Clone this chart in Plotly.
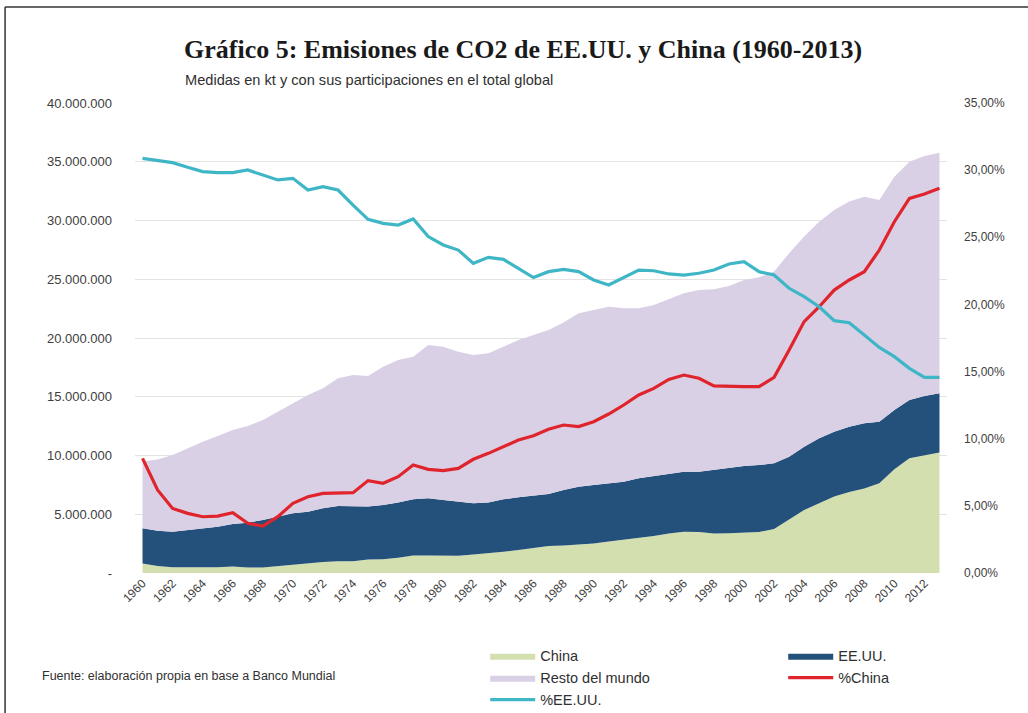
import plotly.graph_objects as go

years = list(range(1960, 2014))

# CO2 emissions (kt)
china = [810000, 600000, 480000, 470000, 470000, 490000, 550000, 460000, 460000, 580000,
         750000, 860000, 930000, 990000, 1010000, 1150000, 1170000, 1300000, 1480000, 1500000,
         1470000, 1470000, 1570000, 1670000, 1810000, 1960000, 2100000, 2300000, 2350000, 2410000,
         2520000, 2680000, 2820000, 2990000, 3140000, 3360000, 3510000, 3490000, 3360000, 3390000,
         3460000, 3490000, 3740000, 4520000, 5360000, 5930000, 6510000, 6900000, 7190000, 7640000,
         8820000, 9770000, 10020000, 10250000]

eeuu = [2990000, 3000000, 3040000, 3190000, 3330000, 3450000, 3620000, 3820000, 4050000, 4210000,
        4330000, 4360000, 4580000, 4710000, 4640000, 4500000, 4620000, 4690000, 4790000, 4860000,
        4740000, 4600000, 4360000, 4320000, 4460000, 4480000, 4450000, 4420000, 4710000, 4940000,
        4970000, 4950000, 4950000, 5070000, 5120000, 5120000, 5110000, 5130000, 5410000, 5520000,
        5650000, 5700000, 5600000, 5380000, 5390000, 5530000, 5520000, 5550000, 5550000, 5240000,
        5050000, 4950000, 5040000, 5040000]

resto = [5680000, 6070000, 6520000, 6950000, 7380000, 7720000, 8000000, 8230000, 8510000, 8940000,
         9360000, 9930000, 10210000, 10870000, 11200000, 11120000, 11770000, 12140000, 12140000, 13050000,
         13050000, 12770000, 12620000, 12710000, 12990000, 13390000, 13710000, 13960000, 14250000, 14750000,
         14890000, 15040000, 14760000, 14470000, 14550000, 14810000, 15180000, 15470000, 15370000, 15520000,
         15830000, 15970000, 16310000, 17310000, 17880000, 18440000, 18870000, 19160000, 19290000, 18870000,
         19860000, 20290000, 20430000, 20480000]

# Shares of global total (fraction)
pct_china = [0.0854, 0.0618, 0.0481, 0.0444, 0.0419, 0.0424, 0.0449, 0.0370, 0.0350, 0.0419,
             0.0519, 0.0568, 0.0593, 0.0598, 0.0598, 0.0688, 0.0668, 0.0717, 0.0804, 0.0772,
             0.0762, 0.0779, 0.0847, 0.0891, 0.0941, 0.0990, 0.1022, 0.1070, 0.1102, 0.1090,
             0.1127, 0.1184, 0.1251, 0.1326, 0.1375, 0.1442, 0.1474, 0.1450, 0.1393, 0.1388,
             0.1388, 0.1388, 0.1457, 0.1661, 0.1872, 0.1983, 0.2107, 0.2182, 0.2244, 0.2405,
             0.2616, 0.2790, 0.2822, 0.2865]

pct_eeuu = [0.3088, 0.3070, 0.3056, 0.3021, 0.2989, 0.2981, 0.2981, 0.3001, 0.2964, 0.2927,
            0.2939, 0.2852, 0.2877, 0.2852, 0.2740, 0.2634, 0.2604, 0.2591, 0.2636, 0.2505,
            0.2443, 0.2405, 0.2306, 0.2351, 0.2336, 0.2269, 0.2200, 0.2244, 0.2261, 0.2244,
            0.2182, 0.2145, 0.2202, 0.2256, 0.2251, 0.2227, 0.2219, 0.2232, 0.2256, 0.2301,
            0.2318, 0.2244, 0.2219, 0.2120, 0.2058, 0.1983, 0.1879, 0.1864, 0.1772, 0.1680,
            0.1611, 0.1524, 0.1457, 0.1457]

left_tickvals = [0, 5000000, 10000000, 15000000, 20000000, 25000000, 30000000, 35000000, 40000000]
left_ticktext = ["-", "5.000.000", "10.000.000", "15.000.000", "20.000.000",
                 "25.000.000", "30.000.000", "35.000.000", "40.000.000"]
x_tickvals = list(range(1960, 2013, 2))

title_text = "Gráfico 5: Emisiones de CO2 de EE.UU. y China (1960-2013)"
subtitle_text = "Medidas en kt y con sus participaciones en el total global"
source_text = "Fuente: elaboración propia en base a Banco Mundial"

C_CHINA = "#d3dfae"
C_EEUU = "#24507c"
C_RESTO = "#d9d0e6"
C_RED = "#e0242b"
C_CYAN = "#3fb6c6"

SANS = "Liberation Sans, Arial, sans-serif"

fig = go.Figure()
fig.add_trace(go.Scatter(x=years, y=china, name="China", stackgroup="one", mode="lines",
                         line=dict(width=0, color=C_CHINA), fillcolor=C_CHINA))
fig.add_trace(go.Scatter(x=years, y=eeuu, name="EE.UU.", stackgroup="one", mode="lines",
                         line=dict(width=0, color=C_EEUU), fillcolor=C_EEUU))
fig.add_trace(go.Scatter(x=years, y=resto, name="Resto del mundo", stackgroup="one", mode="lines",
                         line=dict(width=0, color=C_RESTO), fillcolor=C_RESTO))
fig.add_trace(go.Scatter(x=years, y=pct_china, name="%China", yaxis="y2", mode="lines",
                         line=dict(width=3.2, color=C_RED)))
fig.add_trace(go.Scatter(x=years, y=pct_eeuu, name="%EE.UU.", yaxis="y2", mode="lines",
                         line=dict(width=3.2, color=C_CYAN)))

fig.update_layout(
    width=1028, height=713,
    margin=dict(l=135, r=81, t=103, b=140),
    paper_bgcolor="white", plot_bgcolor="white",
    separators=",.",
    showlegend=True,
    font=dict(family=SANS, size=12, color="#404040"),
    xaxis=dict(range=[1959.5, 2013.5], tickvals=x_tickvals, tickangle=-45,
               showgrid=False, zeroline=False, showline=False, ticks="",
               tickfont=dict(size=12, color="#404040")),
    yaxis=dict(range=[0, 40000000], tickvals=left_tickvals, ticktext=left_ticktext,
               showgrid=True, gridcolor="#e3e3e3", gridwidth=1, zeroline=False,
               showline=False, ticks="", ticklabelstandoff=22,
               tickfont=dict(size=13, color="#404040")),
    yaxis2=dict(range=[0, 0.35], dtick=0.05, tickformat=".2%", overlaying="y", side="right",
                showgrid=False, zeroline=False, showline=False, ticks="", ticklabelstandoff=16,
                tickfont=dict(size=12, color="#404040")),
    legend=dict(orientation="h", xref="container", yref="container",
                x=0.472, y=0.1025, xanchor="left", yanchor="top",
                entrywidth=238, itemwidth=45, tracegroupgap=0, traceorder="normal",
                font=dict(size=14.5, color="#303030", family=SANS),
                bgcolor="rgba(0,0,0,0)"),
    annotations=[
        dict(text="<b>" + title_text + "</b>", xref="paper", yref="paper",
             x=0.478, y=1.113, xanchor="center", yanchor="middle", showarrow=False,
             font=dict(family="Liberation Serif, Times New Roman, serif", size=26, color="#1a1a1a")),
        dict(text=subtitle_text, xref="paper", yref="paper",
             x=0.0591, y=1.049, xanchor="left", yanchor="middle", showarrow=False,
             font=dict(family=SANS, size=14.6, color="#303030")),
        dict(text=source_text, xref="paper", yref="paper",
             x=-0.117, y=-0.219, xanchor="left", yanchor="middle", showarrow=False,
             font=dict(family=SANS, size=12.5, color="#303030")),
    ],
    shapes=[
        dict(type="line", xref="paper", yref="paper", x0=-0.160, x1=1.10, y0=1.204, y1=1.204,
             line=dict(color="#333333", width=1.5)),
        dict(type="line", xref="paper", yref="paper", x0=-0.160, x1=-0.160, y0=1.204, y1=-0.31,
             line=dict(color="#333333", width=1.5)),
    ],
)

fig.write_html("out.html", config={"displayModeBar": False},
               post_script="document.body.style.margin='0';")
